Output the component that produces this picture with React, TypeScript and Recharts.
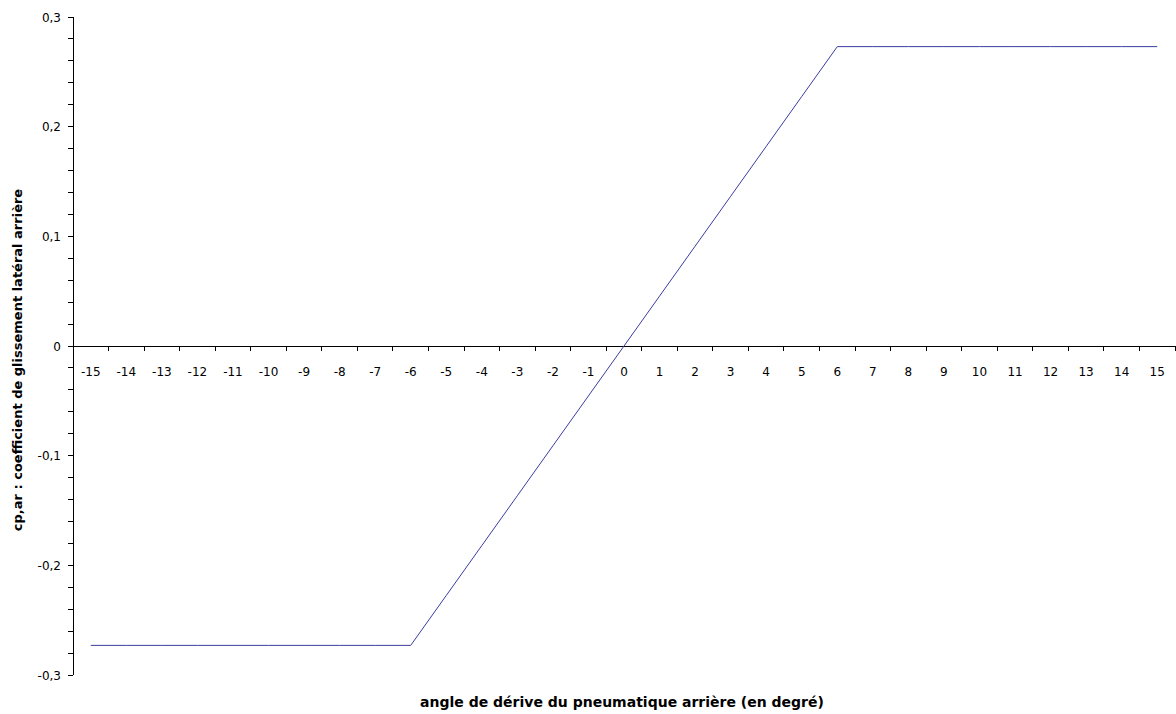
import React from "react";
import { LineChart, Line, XAxis, YAxis, ReferenceLine } from "recharts";

const X_VALUES = [-15, -14, -13, -12, -11, -10, -9, -8, -7, -6, -5, -4, -3, -2, -1, 0, 1, 2, 3, 4, 5, 6, 7, 8, 9, 10, 11, 12, 13, 14, 15];
const CP_VALUES = [-0.273, -0.273, -0.273, -0.273, -0.273, -0.273, -0.273, -0.273, -0.273, -0.273, -0.2275, -0.182, -0.1365, -0.091, -0.0455, 0, 0.0455, 0.091, 0.1365, 0.182, 0.2275, 0.273, 0.273, 0.273, 0.273, 0.273, 0.273, 0.273, 0.273, 0.273, 0.273];
const Y_TICKS = [-0.3, -0.28, -0.26, -0.24, -0.22, -0.2, -0.18, -0.16, -0.14, -0.12, -0.1, -0.08, -0.06, -0.04, -0.02, 0, 0.02, 0.04, 0.06, 0.08, 0.1, 0.12, 0.14, 0.16, 0.18, 0.2, 0.22, 0.24, 0.26, 0.28, 0.3];
const X_TITLE = "angle de dérive du pneumatique arrière (en degré)";
const Y_TITLE = "cp,ar : coefficient de glissement latéral arrière";

const data = X_VALUES.map((x, i) => ({ x, cp: CP_VALUES[i] }));

const W = 1176;
const H = 714;
const PLOT_LEFT = 73;
const PLOT_RIGHT = 1175;
const PLOT_TOP = 17;
const PLOT_BOTTOM = 675;
const X_AXIS_H = 30;
const ZERO_Y = (PLOT_TOP + PLOT_BOTTOM) / 2;
const UNIT = (PLOT_RIGHT - PLOT_LEFT) / 31;
const FONT = "'DejaVu Sans', Verdana, sans-serif";

const fmt = (v: number) => {
  const r = Math.round(v * 10) / 10;
  if (r === 0) return "0";
  return r.toFixed(1).replace(".", ",");
};

const XTick = (props: any) => {
  const { x, payload } = props;
  const v = payload.value;
  return (
    <g>
      <line x1={x - UNIT / 2} x2={x - UNIT / 2} y1={ZERO_Y} y2={ZERO_Y + 5} stroke="#000" shapeRendering="crispEdges" />
      {v === 15 && (
        <line x1={x + UNIT / 2} x2={x + UNIT / 2} y1={ZERO_Y} y2={ZERO_Y + 5} stroke="#000" shapeRendering="crispEdges" />
      )}
      <text x={x} y={ZERO_Y + 30} textAnchor="middle" fontSize={12} fontFamily={FONT} fill="#000">
        {v}
      </text>
    </g>
  );
};

const YTick = (props: any) => {
  const { x, y, payload } = props;
  const v = payload.value;
  const major = Math.abs(Math.round(v * 10) - v * 10) < 1e-6;
  if (!major) return <g />;
  return (
    <text x={x} y={y + 4.5} textAnchor="end" fontSize={12} fontFamily={FONT} fill="#000">
      {fmt(v)}
    </text>
  );
};

const YTitle = () => (
  <text
    transform={`translate(${22}, ${360}) rotate(-90)`}
    textAnchor="middle"
    fontSize={13}
    fontWeight="bold"
    fontFamily={FONT}
    fill="#000"
  >
    {Y_TITLE}
  </text>
);

const XTitle = () => (
  <text x={622} y={707} textAnchor="middle" fontSize={14} fontWeight="bold" fontFamily={FONT} fill="#000">
    {X_TITLE}
  </text>
);

export default function App() {
  return (
    <div style={{ position: "absolute", left: 0, top: 0, width: W, height: H, background: "#fff" }}>
      <LineChart
        width={W}
        height={H}
        data={data}
        margin={{ top: PLOT_TOP, right: W - PLOT_RIGHT, bottom: H - PLOT_BOTTOM - X_AXIS_H, left: PLOT_LEFT - 60 }}
      >
        <XAxis
          dataKey="x"
          type="number"
          domain={[-15.5, 15.5]}
          ticks={X_VALUES}
          height={X_AXIS_H}
          axisLine={false}
          tickLine={false}
          tick={<XTick />}
          interval={0}
          allowDataOverflow
          label={<XTitle />}
        />
        <YAxis
          type="number"
          domain={[-0.3, 0.3]}
          ticks={Y_TICKS}
          width={60}
          interval={0}
          tickSize={5}
          tickMargin={7}
          axisLine={{ stroke: "#000", shapeRendering: "crispEdges" }}
          tickLine={{ stroke: "#000", shapeRendering: "crispEdges" }}
          tick={<YTick />}
          allowDataOverflow
          label={<YTitle />}
        />
        <ReferenceLine y={0} stroke="#000" shapeRendering="crispEdges" />
        <Line
          type="linear"
          dataKey="cp"
          stroke="#3c3ca2"
          strokeWidth={1}
          dot={false}
          isAnimationActive={false}
        />
      </LineChart>
    </div>
  );
}
